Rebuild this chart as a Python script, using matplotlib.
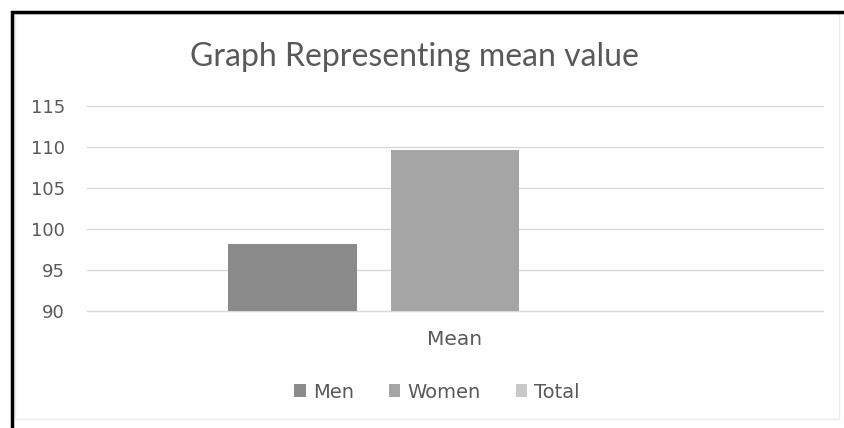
import numpy as np
import matplotlib.pyplot as plt
from matplotlib.lines import Line2D
from matplotlib.patches import Rectangle

categories = ["Mean"]
series = ["Men", "Women", "Total"]
men = [98.2]
women = [109.6]
total = [np.nan]  # no bar shown for Total
colors = ["#8a8a8a", "#a5a5a5", "#c8c8c8"]

plt.rcParams["font.family"] = ["DejaVu Sans"]

W, H = 845, 428
fig = plt.figure(figsize=(W / 100, H / 100), dpi=100)
fig.patch.set_facecolor("white")

# chart frame: heavy black line on top/left, faint grey chart-area edge
fig.add_artist(Rectangle((15 / W, 1 - 419 / H), 824 / W, 405 / H,
                         transform=fig.transFigure, fill=False,
                         edgecolor="#ececec", linewidth=1))
fig.add_artist(Line2D([12 / W, 12 / W, 0.999], [0.0, 1 - 11.5 / H, 1 - 11.5 / H],
                      transform=fig.transFigure, color="black", linewidth=2.5,
                      solid_joinstyle="miter", solid_capstyle="butt"))

ax = fig.add_axes([87 / W, 1 - 310.7 / H, 736 / W, 204.7 / H])

x = np.arange(len(categories))
width = 0.175
step = 0.221
for i, (name, vals) in enumerate(zip(series, [men, women, total])):
    ax.bar(x + (i - 1) * step, vals, width, bottom=0, color=colors[i],
           label=name, zorder=3)

ax.set_ylim(90, 115)
ax.set_xlim(-0.5, 0.5)
ax.set_yticks(range(90, 116, 5))
ax.yaxis.grid(True, color="#d9d9d9", linewidth=1, zorder=0)
for gl in ax.get_ygridlines():
    gl.set_clip_on(False)
ax.set_xticks(x)
ax.set_xticklabels(categories)
for s in ax.spines.values():
    s.set_visible(False)
ax.tick_params(length=0, colors="#595959")
ax.tick_params(axis="y", pad=16, labelsize=13)
ax.tick_params(axis="x", pad=14, labelsize=14.5)

fig.text(414 / W, 1 - 57 / H, "Graph Representing mean value",
         ha="center", va="center", fontsize=23, color="#595959",
         family=["Lato", "DejaVu Sans"])

handles, labels = ax.get_legend_handles_labels()
leg = fig.legend(handles, labels, loc="center", ncol=3,
                 bbox_to_anchor=(437 / W, 1 - 392 / H), frameon=False,
                 fontsize=14, handlelength=0.6, handleheight=0.6,
                 handletextpad=0.35, columnspacing=1.8, labelcolor="#595959")

fig.savefig("out.png", dpi=100, facecolor="white")
